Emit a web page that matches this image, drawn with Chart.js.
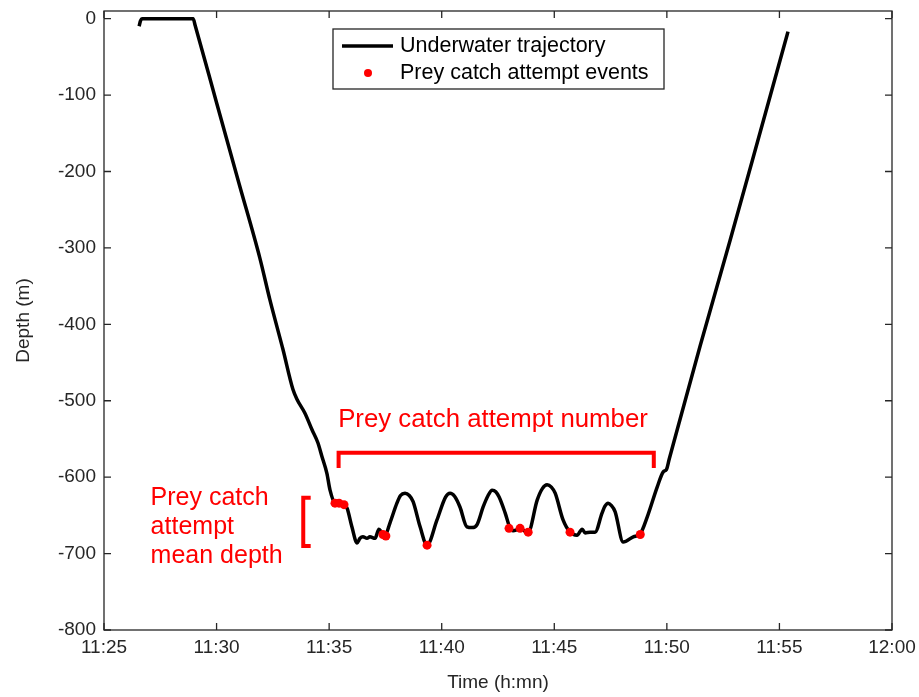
<!DOCTYPE html>
<html><head><meta charset="utf-8">
<script src="https://cdn.jsdelivr.net/npm/chart.js@4.4.0/dist/chart.umd.min.js"></script>
<style>html,body{margin:0;padding:0;background:#fff}canvas{display:block}</style>
</head><body>
<canvas id="c" width="919" height="697"></canvas>
<script>
// minutes after 11:25
const trajTime = [1.56, 1.62, 1.70, 3.96, 4.05, 5.00, 6.00, 6.92, 7.37, 7.95, 8.39, 8.57, 8.92, 9.24, 9.50, 9.68, 9.90, 10.04, 10.26, 10.48, 10.70, 10.80, 11.01, 11.24, 11.37, 11.50, 11.68, 11.81, 12.04, 12.21, 12.35, 12.48, 12.70, 13.01, 13.17, 13.37, 13.56, 13.73, 14.04, 14.35, 14.79, 15.17, 15.37, 15.57, 15.81, 16.12, 16.35, 16.57, 16.84, 17.06, 17.24, 17.40, 17.55, 17.82, 18.04, 18.17, 18.48, 18.84, 19.24, 19.47, 19.68, 19.87, 20.04, 20.39, 20.70, 21.01, 21.24, 21.37, 21.59, 21.81, 22.12, 22.25, 22.39, 22.53, 22.70, 23.06, 23.51, 23.82, 24.13, 24.57, 24.84, 24.98, 25.10, 26.48, 27.81, 29.15, 30.25, 30.38];
const trajDepth = [-10, -3, 0, 0, -9, -110, -216, -313, -368, -433, -485, -498, -516, -538, -555, -573, -595, -617, -634, -635, -637, -641, -665, -686, -680, -678, -680, -678, -680, -668, -673, -676, -660, -634, -624, -621, -624, -632, -665, -689, -656, -626, -621, -625, -639, -665, -666, -662, -639, -624, -617, -619, -626, -647, -667, -670, -668, -672, -630, -615, -610, -613, -621, -656, -672, -676, -668, -673, -672, -672, -647, -638, -634, -637, -645, -685, -678, -674, -652, -613, -593, -590, -577, -428, -290, -148, -31, -17];
const eventTime = [10.26, 10.44, 10.66, 12.39, 12.52, 14.35, 17.99, 18.48, 18.84, 20.70, 23.82];
const eventDepth = [-634, -634, -636, -675, -677, -689, -667, -667, -672, -672, -675];
const xTickValues = [0, 5, 10, 15, 20, 25, 30, 35];
const xTickLabels = ['11:25', '11:30', '11:35', '11:40', '11:45', '11:50', '11:55', '12:00'];
const yTickValues = [-800, -700, -600, -500, -400, -300, -200, -100, 0];
const legendLabels = ['Underwater trajectory', 'Prey catch attempt events'];
const numberText = 'Prey catch attempt number';
const depthTextLines = ['Prey catch', 'attempt', 'mean depth'];

const FONT = '"Liberation Sans", Arial, Helvetica, sans-serif';
const AX = '#262626';
const RED = '#ff0000';

const overlay = {
  id: 'overlay',
  afterDatasetsDraw(chart) {
    const { ctx, chartArea: a, scales: { x, y } } = chart;
    ctx.save();
    ctx.strokeStyle = AX; ctx.lineWidth = 1.3;
    ctx.strokeRect(a.left, a.top, a.right - a.left, a.bottom - a.top);
    const tl = 7;
    ctx.beginPath();
    xTickValues.forEach(v => {
      const px = x.getPixelForValue(v);
      ctx.moveTo(px, a.bottom); ctx.lineTo(px, a.bottom - tl);
      ctx.moveTo(px, a.top); ctx.lineTo(px, a.top + tl);
    });
    yTickValues.forEach(v => {
      const py = y.getPixelForValue(v);
      ctx.moveTo(a.left, py); ctx.lineTo(a.left + tl, py);
      ctx.moveTo(a.right, py); ctx.lineTo(a.right - tl, py);
    });
    ctx.stroke();

    // legend
    const lx = a.left + 229, ly = a.top + 18, lw = 331, lh = 60;
    ctx.fillStyle = '#fff';
    ctx.fillRect(lx, ly, lw, lh);
    ctx.strokeStyle = AX; ctx.lineWidth = 1.3;
    ctx.strokeRect(lx, ly, lw, lh);
    ctx.strokeStyle = '#000'; ctx.lineWidth = 3.5;
    ctx.beginPath(); ctx.moveTo(lx + 9, ly + 17); ctx.lineTo(lx + 60, ly + 17); ctx.stroke();
    ctx.fillStyle = RED;
    ctx.beginPath(); ctx.arc(lx + 35, ly + 44, 4, 0, Math.PI * 2); ctx.fill();
    ctx.fillStyle = '#000';
    ctx.font = '21.5px ' + FONT;
    ctx.textBaseline = 'middle'; ctx.textAlign = 'left';
    ctx.fillText(legendLabels[0], lx + 67, ly + 17);
    ctx.fillText(legendLabels[1], lx + 67, ly + 44);

    // annotations (data coordinates)
    ctx.strokeStyle = RED; ctx.fillStyle = RED; ctx.lineWidth = 4;
    ctx.lineCap = 'butt'; ctx.lineJoin = 'miter';
    const bx1 = x.getPixelForValue(10.42), bx2 = x.getPixelForValue(24.42);
    const byT = y.getPixelForValue(-568), byB = y.getPixelForValue(-588);
    ctx.beginPath();
    ctx.moveTo(bx1, byB); ctx.lineTo(bx1, byT); ctx.lineTo(bx2, byT); ctx.lineTo(bx2, byB);
    ctx.stroke();
    const lbx = x.getPixelForValue(8.85), lbx2 = x.getPixelForValue(9.18);
    const lbT = y.getPixelForValue(-627), lbB = y.getPixelForValue(-690);
    ctx.beginPath();
    ctx.moveTo(lbx2, lbT); ctx.lineTo(lbx, lbT); ctx.lineTo(lbx, lbB); ctx.lineTo(lbx2, lbB);
    ctx.stroke();
    ctx.textBaseline = 'alphabetic'; ctx.textAlign = 'left';
    ctx.font = '25.8px ' + FONT;
    ctx.fillText(numberText, x.getPixelForValue(10.40), y.getPixelForValue(-534));
    ctx.font = '25px ' + FONT;
    const depthBase = [-636, -674, -712];
    depthTextLines.forEach((t, i) => ctx.fillText(t, x.getPixelForValue(2.07), y.getPixelForValue(depthBase[i])));
    ctx.restore();
  }
};

new Chart(document.getElementById('c'), {
  type: 'line',
  data: {
    datasets: [
      {
        label: legendLabels[1],
        data: eventTime.map((t, i) => ({ x: t, y: eventDepth[i] })),
        showLine: false, pointRadius: 4.5, pointBackgroundColor: RED, pointBorderWidth: 0,
        borderColor: RED, order: 0
      },
      {
        label: legendLabels[0],
        data: trajTime.map((t, i) => ({ x: t, y: trajDepth[i] })),
        borderColor: '#000', borderWidth: 3.5, pointRadius: 0, fill: false,
        cubicInterpolationMode: 'monotone', order: 1
      }
    ]
  },
  options: {
    responsive: false, animation: false, devicePixelRatio: 1,
    layout: { padding: { top: 11, right: 27, left: 0, bottom: 0 } },
    plugins: { legend: { display: false }, tooltip: { enabled: false } },
    scales: {
      x: {
        type: 'linear', min: 0, max: 35,
        afterBuildTicks: s => { s.ticks = xTickValues.map(v => ({ value: v })); },
        afterFit: s => { s.height = 67; s.paddingLeft = 0; s.paddingRight = 0; },
        grid: { display: false, drawTicks: false }, border: { display: false },
        ticks: { callback: v => xTickLabels[xTickValues.indexOf(v)], font: { family: FONT, size: 19 }, color: AX, padding: 6, maxRotation: 0, autoSkip: false },
        title: { display: true, text: 'Time (h:mn)', font: { family: FONT, size: 19 }, color: AX, padding: { top: 0, bottom: 3 } }
      },
      y: {
        type: 'linear', min: -800, max: 10,
        afterBuildTicks: s => { s.ticks = yTickValues.map(v => ({ value: v })); },
        afterFit: s => { s.width = 104; s.paddingTop = 0; s.paddingBottom = 0; },
        grid: { display: false, drawTicks: false }, border: { display: false },
        ticks: { callback: v => String(v), font: { family: FONT, size: 19 }, color: AX, padding: 8 },
        title: { display: true, text: 'Depth (m)', font: { family: FONT, size: 19 }, color: AX, padding: { top: 12, bottom: 0 } }
      }
    }
  },
  plugins: [overlay]
});
</script>
</body></html>
